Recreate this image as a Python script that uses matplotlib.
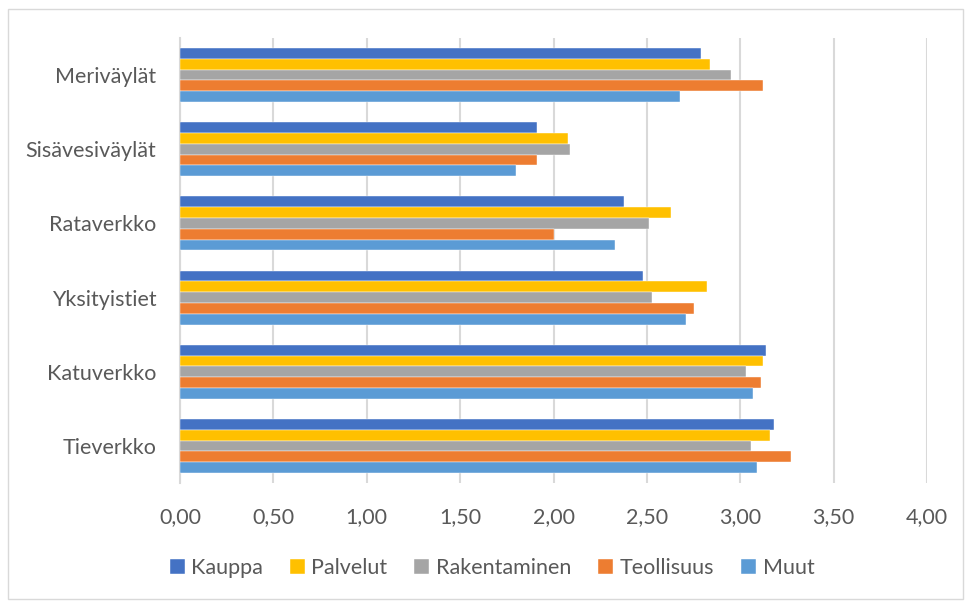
import numpy as np
import matplotlib
matplotlib.use("Agg")
import matplotlib.pyplot as plt
from matplotlib.patches import Rectangle

plt.rcParams['font.family'] = ['Lato', 'DejaVu Sans']

categories = ["Tieverkko", "Katuverkko", "Yksityistiet", "Rataverkko", "Sisävesiväylät", "Meriväylät"]
series_names = ["Kauppa", "Palvelut", "Rakentaminen", "Teollisuus", "Muut"]
colors = ["#4472C4", "#FFC000", "#A5A5A5", "#ED7D31", "#5B9BD5"]

kauppa = [3.18, 3.14, 2.48, 2.38, 1.91, 2.79]
palvelut = [3.16, 3.12, 2.82, 2.63, 2.08, 2.84]
rakentaminen = [3.06, 3.03, 2.53, 2.51, 2.09, 2.95]
teollisuus = [3.27, 3.11, 2.75, 2.00, 1.91, 3.12]
muut = [3.09, 3.07, 2.71, 2.33, 1.80, 2.68]
values = [kauppa, palvelut, rakentaminen, teollisuus, muut]

fig = plt.figure(figsize=(9.65, 6.01), dpi=100)
ax = fig.add_axes([180 / 965, 1 - 483 / 601, (927 - 180) / 965, (483 - 38) / 601])

y = np.arange(len(categories))
h = 0.146
for i, (name, vals, c) in enumerate(zip(series_names, values, colors)):
    offset = (2 - i) * h
    ax.barh(y + offset, vals, height=h, color=c, label=name,
            edgecolor="white", linewidth=0.3, zorder=3)

ax.set_xlim(0, 4.0)
ax.set_ylim(-0.5, len(categories) - 0.5)
ticks = np.arange(0, 4.01, 0.5)
ax.set_xticks(ticks)
ax.set_xticklabels([f"{t:.2f}".replace(".", ",") for t in ticks])
ax.set_yticks(y)
ax.set_yticklabels(categories)
ax.grid(axis="x", color="#D9D9D9", linewidth=1.5, zorder=0)
for s in ["top", "right", "bottom"]:
    ax.spines[s].set_visible(False)
ax.spines["left"].set_color("#D9D9D9")
ax.spines["left"].set_linewidth(1.5)
ax.tick_params(axis="both", length=0, labelsize=15.5, colors="#595959")
ax.tick_params(axis="x", pad=17)
ax.tick_params(axis="y", pad=17)

handles, labels = ax.get_legend_handles_labels()
fig.legend(handles, labels, loc="center", bbox_to_anchor=(492 / 965, 1 - 568 / 601),
           ncol=5, frameon=False, fontsize=15.5, labelcolor="#595959",
           handlelength=0.7, handleheight=0.7, handletextpad=0.3, columnspacing=1.25)

fig.patches.append(Rectangle((8 / 965, 2 / 601), 955 / 965, 590 / 601, transform=fig.transFigure,
                             fill=False, edgecolor="#D9D9D9", linewidth=1))

fig.savefig("out.png", dpi=100)
